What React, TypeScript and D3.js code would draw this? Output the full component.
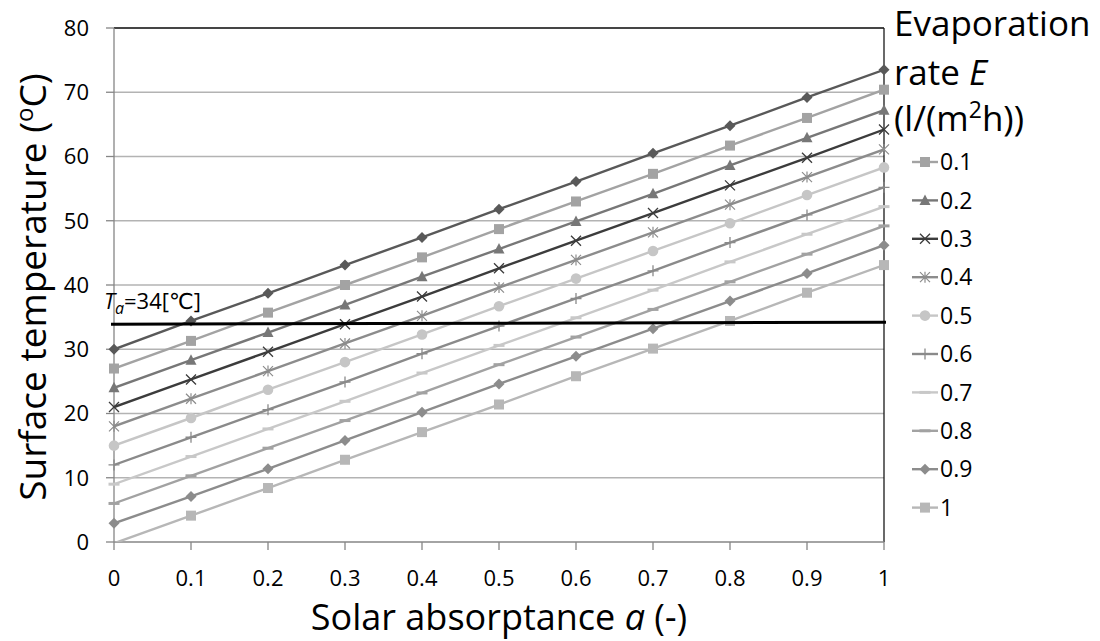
import React from "react";
import * as d3 from "d3";

const absorptance = [0, 0.1, 0.2, 0.3, 0.4, 0.5, 0.6, 0.7, 0.8, 0.9, 1];
const seriesNames = ["0", "0.1", "0.2", "0.3", "0.4", "0.5", "0.6", "0.7", "0.8", "0.9", "1"];
const inLegend = [false, true, true, true, true, true, true, true, true, true, true];
const e00 = [30.0, 34.4, 38.7, 43.1, 47.4, 51.8, 56.1, 60.5, 64.8, 69.2, 73.5];
const e01 = [27.0, 31.3, 35.7, 40.0, 44.3, 48.7, 53.0, 57.3, 61.7, 66.0, 70.4];
const e02 = [24.0, 28.3, 32.6, 36.9, 41.3, 45.6, 49.9, 54.2, 58.6, 62.9, 67.2];
const e03 = [21.0, 25.3, 29.6, 33.9, 38.2, 42.6, 46.9, 51.2, 55.5, 59.8, 64.2];
const e04 = [18.0, 22.3, 26.6, 30.9, 35.2, 39.6, 43.9, 48.2, 52.5, 56.8, 61.1];
const e05 = [15.0, 19.3, 23.7, 28.0, 32.3, 36.7, 41.0, 45.3, 49.6, 54.0, 58.3];
const e06 = [12.0, 16.3, 20.6, 24.9, 29.3, 33.6, 37.9, 42.2, 46.6, 50.9, 55.2];
const e07 = [9.0, 13.3, 17.6, 21.9, 26.3, 30.6, 34.9, 39.2, 43.6, 47.9, 52.2];
const e08 = [6.0, 10.3, 14.6, 18.9, 23.2, 27.6, 31.9, 36.2, 40.5, 44.8, 49.2];
const e09 = [2.9, 7.1, 11.4, 15.8, 20.2, 24.6, 28.9, 33.2, 37.5, 41.8, 46.2];
const e10 = [-0.2, 4.1, 8.4, 12.8, 17.1, 21.4, 25.8, 30.1, 34.4, 38.8, 43.1];
const seriesValues = [e00, e01, e02, e03, e04, e05, e06, e07, e08, e09, e10];
const seriesMarkers = ["diamond", "square", "triangle", "x", "asterisk", "circle", "plus", "dash", "dash", "diamond", "square"];
const seriesColors = ["#595959", "#a3a3a3", "#777777", "#3c3c3c", "#8c8c8c", "#c6c6c6", "#8a8a8a", "#c8c8c8", "#a2a2a2", "#8c8c8c", "#b7b7b7"];

const xTicks = [0, 0.1, 0.2, 0.3, 0.4, 0.5, 0.6, 0.7, 0.8, 0.9, 1];
const xTickLabels = ["0", "0.1", "0.2", "0.3", "0.4", "0.5", "0.6", "0.7", "0.8", "0.9", "1"];
const yTicks = [0, 10, 20, 30, 40, 50, 60, 70, 80];

const ambientX = [0, 1];
const ambientY = [33.9, 34.2];

const FONT = "'Open Sans', 'DejaVu Sans', sans-serif";

const W = 1100, H = 641;
const L = 114, R = 884, T = 28, B = 542;

function Marker({ type, x, y, color }: { type: string; x: number; y: number; color: string }) {
  switch (type) {
    case "diamond":
      return <path d={`M${x},${y - 5.5}L${x + 5.5},${y}L${x},${y + 5.5}L${x - 5.5},${y}Z`} fill={color} />;
    case "square":
      return <rect x={x - 5} y={y - 5} width={10} height={10} fill={color} />;
    case "triangle":
      return <path d={`M${x},${y - 6}L${x + 5.5},${y + 4.5}L${x - 5.5},${y + 4.5}Z`} fill={color} />;
    case "x":
      return <path d={`M${x - 5},${y - 5}L${x + 5},${y + 5}M${x - 5},${y + 5}L${x + 5},${y - 5}`} stroke={color} strokeWidth={1.3} fill="none" />;
    case "asterisk":
      return <path d={`M${x - 5},${y - 5}L${x + 5},${y + 5}M${x - 5},${y + 5}L${x + 5},${y - 5}M${x},${y - 5.5}L${x},${y + 5.5}`} stroke={color} strokeWidth={1.2} fill="none" />;
    case "circle":
      return <circle cx={x} cy={y} r={5.3} fill={color} />;
    case "plus":
      return <path d={`M${x - 5.5},${y}L${x + 5.5},${y}M${x},${y - 5.5}L${x},${y + 5.5}`} stroke={color} strokeWidth={1.3} fill="none" />;
    case "dash":
      return <path d={`M${x - 5.5},${y}L${x + 5.5},${y}`} stroke={color} strokeWidth={3} fill="none" />;
    default:
      return null;
  }
}

export default function App() {
  const x = d3.scaleLinear().domain([0, 1]).range([L, R]);
  const y = d3.scaleLinear().domain([0, 80]).range([B, T]);
  const line = d3
    .line<number>()
    .x((_, i) => x(absorptance[i]))
    .y((d) => y(d));

  const legendStartY = 162;
  const legendStep = 38.4;
  const legendItems = seriesNames
    .map((n, i) => ({ n, i }))
    .filter((d) => inLegend[d.i]);

  return (
    <svg width={W} height={H} style={{ display: "block", position: "absolute", left: 0, top: 0, background: "#fff" }} fontFamily={FONT}>
      <defs>
        <clipPath id="plotclip">
          <rect x={L} y={T} width={R - L} height={B - T} />
        </clipPath>
      </defs>
      {/* gridlines */}
      {yTicks.filter((t) => t > 0).map((t) => (
        <line key={t} x1={L} x2={R} y1={y(t)} y2={y(t)} stroke="#b3b3b3" strokeWidth={1.3} />
      ))}
      {/* top and right border */}
      <line x1={L} x2={R} y1={T} y2={T} stroke="#1a1a1a" strokeWidth={1.3} />
      <line x1={R} x2={R} y1={T} y2={B} stroke="#1a1a1a" strokeWidth={1.3} />
      {/* axes */}
      <line x1={L} x2={L} y1={T} y2={B} stroke="#868686" strokeWidth={1.3} />
      <line x1={L} x2={R} y1={B} y2={B} stroke="#868686" strokeWidth={1.3} />
      {yTicks.map((t) => (
        <g key={"yt" + t}>
          <line x1={L - 8} x2={L} y1={y(t)} y2={y(t)} stroke="#868686" strokeWidth={1.3} />
          <text x={L - 25} y={y(t)} dy="0.36em" textAnchor="end" fontSize={22} fill="#000">{t}</text>
        </g>
      ))}
      {xTicks.map((t, i) => (
        <g key={"xt" + t}>
          <line x1={x(t)} x2={x(t)} y1={B} y2={B + 8} stroke="#868686" strokeWidth={1.3} />
          <text x={x(t)} y={586} textAnchor="middle" fontSize={22} fill="#000">{xTickLabels[i]}</text>
        </g>
      ))}
      {/* series lines */}
      <g clipPath="url(#plotclip)">
        {seriesValues.map((vals, si) => (
          <path key={"l" + si} d={line(vals) || ""} fill="none" stroke={seriesColors[si]} strokeWidth={2.4} />
        ))}
      </g>
      {/* markers */}
      {seriesValues.map((vals, si) => (
        <g key={"m" + si}>
          {vals.map((v, i) =>
            v >= 0 && v <= 80 ? (
              <Marker key={i} type={seriesMarkers[si]} x={x(absorptance[i])} y={y(v)} color={seriesColors[si]} />
            ) : null
          )}
        </g>
      ))}
      {/* ambient temperature line */}
      <line x1={x(ambientX[0]) - 3} x2={x(ambientX[1]) + 2} y1={y(ambientY[0])} y2={y(ambientY[1])} stroke="#000" strokeWidth={3} />
      <text x={104} y={309} fontSize={22} fill="#000">
        <tspan fontStyle="italic">T</tspan>
        <tspan fontStyle="italic" dy={5} fontSize={16}>a</tspan>
        <tspan dy={-5}>=34[℃]</tspan>
      </text>
      {/* axis titles */}
      <text x={(L + R) / 2} y={630} textAnchor="middle" fontSize={36} fill="#000">
        Solar absorptance <tspan fontStyle="italic">a</tspan> (-)
      </text>
      <text transform={`translate(46,287) rotate(-90)`} textAnchor="middle" fontSize={37} fill="#000">
        Surface temperature (<tspan dy={-13} fontSize={24}>o</tspan><tspan dy={13}>C)</tspan>
      </text>
      {/* legend */}
      <text x={894} y={36} fontSize={35} fill="#000">Evaporation</text>
      <text x={894} y={85} fontSize={35} fill="#000">
        rate <tspan fontStyle="italic">E</tspan>
      </text>
      <text x={894} y={131} fontSize={35} fill="#000">
        (l/(m<tspan dy={-13} fontSize={23}>2</tspan><tspan dy={13}>h))</tspan>
      </text>
      {legendItems.map((d, k) => {
        const ly = legendStartY + k * legendStep;
        return (
          <g key={"lg" + d.i}>
            <line x1={912} x2={938} y1={ly} y2={ly} stroke={seriesColors[d.i]} strokeWidth={2.4} />
            <Marker type={seriesMarkers[d.i]} x={925} y={ly} color={seriesColors[d.i]} />
            <text x={940} y={ly} dy="0.36em" fontSize={23} fill="#000">{d.n}</text>
          </g>
        );
      })}
    </svg>
  );
}
